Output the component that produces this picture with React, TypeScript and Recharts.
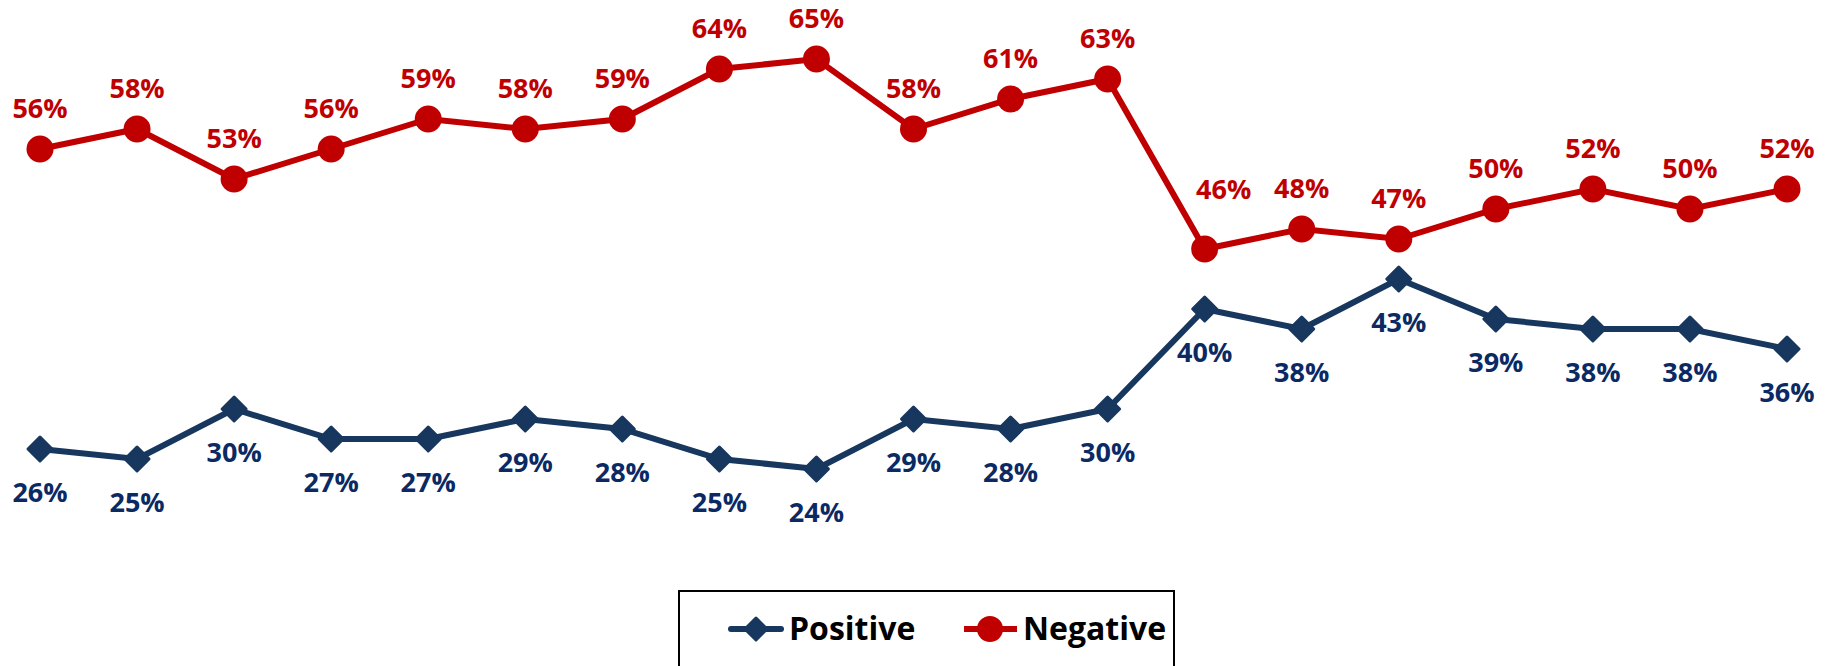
import { LineChart, Line, XAxis, YAxis, LabelList } from 'recharts';

const periods = ['P1', 'P2', 'P3', 'P4', 'P5', 'P6', 'P7', 'P8', 'P9', 'P10', 'P11', 'P12', 'P13', 'P14', 'P15', 'P16', 'P17', 'P18', 'P19'];
const positive = [26, 25, 30, 27, 27, 29, 28, 25, 24, 29, 28, 30, 40, 38, 43, 39, 38, 38, 36];
const negative = [56, 58, 53, 56, 59, 58, 59, 64, 65, 58, 61, 63, 46, 48, 47, 50, 52, 50, 52];

const BLUE = '#17375E';
const BLUE_TEXT = '#0B2A64';
const RED = '#C00000';
const FONT = '"Open Sans", "Noto Sans", sans-serif';

const data = periods.map((period, i) => ({ period, positive: positive[i], negative: negative[i] }));

const Diamond = ({ cx, cy, size = 12 }: { cx?: number; cy?: number; size?: number }) => {
  if (cx == null || cy == null) return null;
  const s = size;
  return (
    <path
      d={`M${cx},${cy - s} L${cx + s},${cy} L${cx},${cy + s} L${cx - s},${cy} Z`}
      fill={BLUE}
      stroke={BLUE}
      strokeWidth={3}
      strokeLinejoin="round"
    />
  );
};

const Dot = ({ cx, cy }: { cx?: number; cy?: number }) => {
  if (cx == null || cy == null) return null;
  return <circle cx={cx} cy={cy} r={13.5} fill={RED} />;
};

const redLabel = (props: any) => {
  const { x, y, value, index } = props;
  // the label after the big drop sits up and to the right, clear of the line
  const moved = index === 12;
  return (
    <text
      x={x + (moved ? 19 : 0)}
      y={y - (moved ? 50 : 31)}
      textAnchor="middle"
      fill={RED}
      fontFamily={FONT}
      fontWeight={700}
      fontSize={27}
    >
      {value}%
    </text>
  );
};

const blueLabel = (props: any) => {
  const { x, y, value } = props;
  return (
    <text x={x} y={y + 53} textAnchor="middle" fill={BLUE_TEXT} fontFamily={FONT} fontWeight={700} fontSize={27}>
      {value}%
    </text>
  );
};

function ChartLegend() {
  return (
    <svg
      width={497}
      height={90}
      style={{ position: 'absolute', left: 678, top: 590, background: '#fff', border: '2px solid #000', boxSizing: 'border-box' }}
    >
      <g transform="translate(-680,-592)">
        <line x1={731} y1={629} x2={781} y2={629} stroke={BLUE} strokeWidth={6} strokeLinecap="round" />
        <Diamond cx={756} cy={629} size={11} />
        <text x={789} y={640} fontFamily={FONT} fontWeight={700} fontSize={32} fill="#000">Positive</text>
        <line x1={964} y1={629} x2={1017} y2={629} stroke={RED} strokeWidth={6} />
        <circle cx={990} cy={629} r={13} fill={RED} />
        <text x={1023} y={640} fontFamily={FONT} fontWeight={700} fontSize={32} fill="#000">Negative</text>
      </g>
    </svg>
  );
}

export default function App() {
  return (
    <div style={{ position: 'absolute', left: 0, top: 0, width: 1833, height: 666, background: '#fff', overflow: 'hidden' }}>
      <LineChart width={1833} height={666} data={data} margin={{ top: 9, right: 46, bottom: 157, left: 40 }}>
        <XAxis dataKey="period" hide padding={{ left: 0, right: 0 }} />
        <YAxis hide domain={[20, 70]} />
        <Line
          type="linear"
          dataKey="positive"
          stroke={BLUE}
          strokeWidth={6}
          dot={<Diamond />}
          activeDot={false}
          isAnimationActive={false}
        >
          <LabelList dataKey="positive" content={blueLabel} />
        </Line>
        <Line
          type="linear"
          dataKey="negative"
          stroke={RED}
          strokeWidth={6}
          dot={<Dot />}
          activeDot={false}
          isAnimationActive={false}
        >
          <LabelList dataKey="negative" content={redLabel} />
        </Line>
      </LineChart>
      <ChartLegend />
    </div>
  );
}
